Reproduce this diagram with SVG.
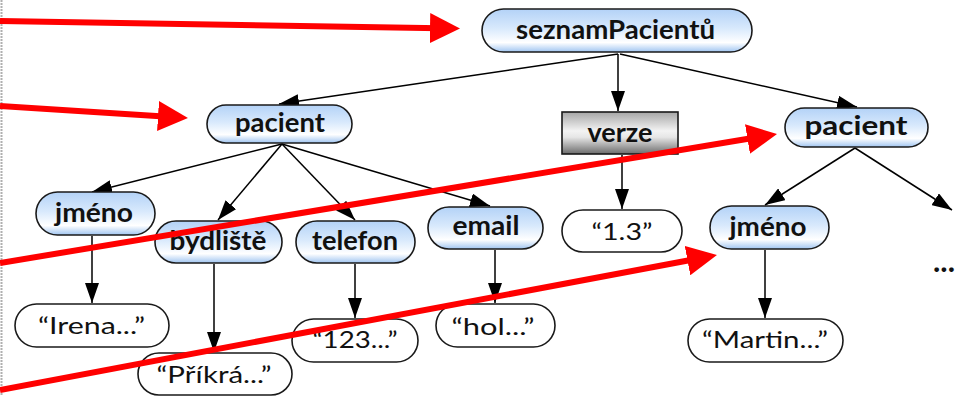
<svg xmlns="http://www.w3.org/2000/svg" width="957" height="396" viewBox="0 0 957 396">
<defs>
<linearGradient id="blue" x1="0" y1="0" x2="0" y2="1">
<stop offset="0" stop-color="#b3d2f7"/>
<stop offset="0.45" stop-color="#d8e9fc"/>
<stop offset="0.78" stop-color="#ffffff"/>
<stop offset="1" stop-color="#a0c5f1"/>
</linearGradient>
<linearGradient id="gray" x1="0" y1="0" x2="0" y2="1">
<stop offset="0" stop-color="#a6a6a6"/>
<stop offset="0.45" stop-color="#f3f3f3"/>
<stop offset="0.6" stop-color="#e6e6e6"/>
<stop offset="1" stop-color="#6c6c6c"/>
</linearGradient>
<marker id="ah" markerUnits="userSpaceOnUse" markerWidth="20" markerHeight="14" refX="20" refY="7" orient="auto">
<path d="M0,0 L20,7 L0,14 z" fill="#000"/>
</marker>
<marker id="rh" markerUnits="userSpaceOnUse" markerWidth="30" markerHeight="30" refX="10" refY="15" orient="auto">
<path d="M0,0 L30,15 L0,30 z" fill="#ff0000"/>
</marker>
</defs>
<style>
.k{fill:url(#blue);stroke:#1a1a1a;stroke-width:1.6}
.v{fill:#fff;stroke:#1a1a1a;stroke-width:1.6}
.g{fill:url(#gray);stroke:#1a1a1a;stroke-width:1.6}
.tb{font-family:Lato,"Open Sans",sans-serif;font-weight:bold;font-size:26px;fill:#111;text-anchor:middle}
.tv{font-family:Lato,"Open Sans",sans-serif;font-size:23px;fill:#111;text-anchor:middle}
.c{stroke:#000;stroke-width:1.5;fill:none;marker-end:url(#ah)}
.r{stroke:#ff0000;stroke-width:6;fill:none;marker-end:url(#rh)}
</style>
<rect width="957" height="396" fill="#fff"/>
<line x1="1.5" y1="0" x2="1.5" y2="396" stroke="#b0b0b0" stroke-width="2" stroke-dasharray="2 1"/>
<g id="connectors">
<line class="c" x1="618" y1="54" x2="279" y2="104"/>
<line class="c" x1="618" y1="54" x2="618" y2="111"/>
<line class="c" x1="620" y1="54" x2="857" y2="107"/>
<line class="c" x1="282" y1="144" x2="92" y2="192"/>
<line class="c" x1="282" y1="144" x2="218" y2="220"/>
<line class="c" x1="282" y1="144" x2="355" y2="220"/>
<line class="c" x1="282" y1="144" x2="490" y2="206"/>
<line class="c" x1="622" y1="155" x2="622" y2="209"/>
<line class="c" x1="92" y1="236" x2="92" y2="303"/>
<line class="c" x1="214" y1="264" x2="214" y2="352"/>
<line class="c" x1="355" y1="264" x2="355" y2="318"/>
<line class="c" x1="495" y1="250" x2="495" y2="303"/>
<line class="c" x1="855" y1="148" x2="765" y2="205"/>
<line class="c" x1="855" y1="148" x2="952" y2="210"/>
<line class="c" x1="765" y1="250" x2="765" y2="318"/>
</g>
<g id="seznamPacientu"><rect class="k" x="482" y="9" width="270" height="43" rx="21.5"/><text class="tb" x="615.5" y="39" textLength="199" lengthAdjust="spacingAndGlyphs">seznamPacientů</text></g>
<g id="pacient1"><rect class="k" x="207" y="105" width="145" height="38" rx="19"/><text class="tb" x="280" y="132" textLength="90" lengthAdjust="spacingAndGlyphs">pacient</text></g>
<g id="verze"><rect class="g" x="562" y="112" width="116" height="42"/><text class="tb" x="620" y="142" textLength="65" lengthAdjust="spacingAndGlyphs">verze</text></g>
<g id="pacient2"><rect class="k" x="785" y="108" width="143" height="39" rx="19.5"/><text class="tb" x="856" y="135" textLength="103" lengthAdjust="spacingAndGlyphs">pacient</text></g>
<g id="jmeno1"><rect class="k" x="36" y="192" width="119" height="43" rx="21.5"/><text class="tb" x="94" y="222" textLength="78" lengthAdjust="spacingAndGlyphs">jméno</text></g>
<g id="bydliste"><rect class="k" x="155" y="221" width="127" height="42" rx="21"/><text class="tb" x="218" y="250" textLength="97" lengthAdjust="spacingAndGlyphs">bydliště</text></g>
<g id="telefon"><rect class="k" x="296" y="221" width="119" height="42" rx="21"/><text class="tb" x="355" y="250" textLength="86" lengthAdjust="spacingAndGlyphs">telefon</text></g>
<g id="email"><rect class="k" x="428" y="207" width="115" height="42" rx="21"/><text class="tb" x="486" y="235" textLength="67" lengthAdjust="spacingAndGlyphs">email</text></g>
<g id="verzeVal"><rect class="v" x="562" y="210" width="120" height="42" rx="21"/><text class="tv" x="622" y="240" textLength="61" lengthAdjust="spacingAndGlyphs">“1.3”</text></g>
<g id="jmeno2"><rect class="k" x="710" y="206" width="119" height="43" rx="21.5"/><text class="tb" x="768" y="236" textLength="77" lengthAdjust="spacingAndGlyphs">jméno</text></g>
<g id="irena"><rect class="v" x="15" y="304" width="154" height="43" rx="21.5"/><text class="tv" x="91.5" y="334" textLength="107" lengthAdjust="spacingAndGlyphs">“Irena...”</text></g>
<g id="prikra"><rect class="v" x="138" y="353" width="154" height="42" rx="21"/><text class="tv" x="214" y="383" textLength="115" lengthAdjust="spacingAndGlyphs">“Příkrá...”</text></g>
<g id="tel123"><rect class="v" x="292" y="319" width="126" height="43" rx="21.5"/><text class="tv" x="355" y="348" textLength="85" lengthAdjust="spacingAndGlyphs">“123...”</text></g>
<g id="hol"><rect class="v" x="436" y="304" width="119" height="43" rx="21.5"/><text class="tv" x="493" y="335" textLength="83" lengthAdjust="spacingAndGlyphs">“hol...”</text></g>
<g id="martin"><rect class="v" x="688" y="319" width="155" height="43" rx="21.5"/><text class="tv" x="765" y="348" textLength="126" lengthAdjust="spacingAndGlyphs">“Martin...”</text></g>
<g id="more"><text class="tb" x="944" y="272" style="font-size:30px" textLength="22" lengthAdjust="spacingAndGlyphs">...</text></g>
<g id="red-arrows">
<line class="r" x1="0" y1="21" x2="440" y2="28.2"/>
<line class="r" x1="0" y1="106" x2="168" y2="116.7"/>
<line class="r" x1="0" y1="263" x2="757.3" y2="137.3"/>
<line class="r" x1="0" y1="390" x2="697.3" y2="258.7"/>
</g>
</svg>
